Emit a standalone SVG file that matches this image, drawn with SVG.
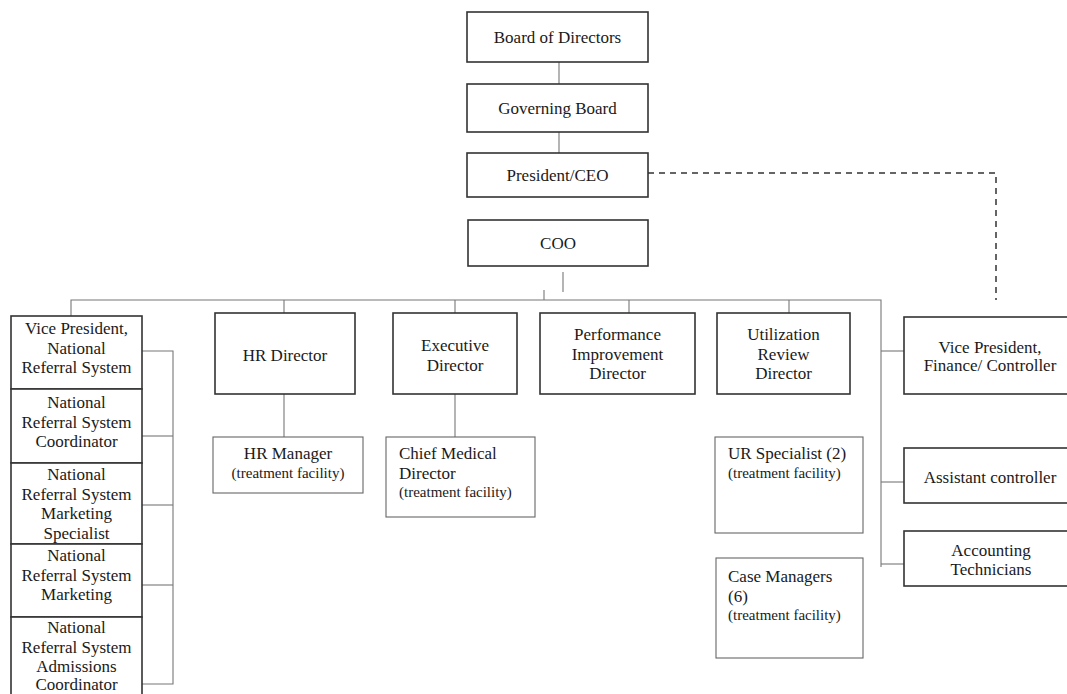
<svg xmlns="http://www.w3.org/2000/svg" width="1067" height="694" viewBox="0 0 1067 694">
<style>
  .box { fill: #fff; stroke: #333; stroke-width: 1.6; }
  .sub { fill: #fff; stroke: #666; stroke-width: 1.1; }
  .t { font-family: "Liberation Serif", "Times New Roman", serif; font-size: 17px; fill: #1a1a1a; text-anchor: middle; }
  .tl { font-family: "Liberation Serif", "Times New Roman", serif; font-size: 17px; fill: #1a1a1a; }
  .s { font-size: 15px; }
  .c { fill: none; stroke: #777; stroke-width: 1.1; }
  .d { fill: none; stroke: #333; stroke-width: 1.5; stroke-dasharray: 6 5; }
</style>
<rect width="1067" height="694" fill="#fff"/>
<g id="connectors">
  <line class="c" x1="559" y1="62" x2="559" y2="84"/>
  <line class="c" x1="559" y1="132" x2="559" y2="153"/>
  <line class="c" x1="563" y1="272" x2="563" y2="292"/>
  <line class="c" x1="544" y1="290" x2="544" y2="300"/>
  <polyline class="c" points="71,316 71,300 881,300 881,567"/>
  <line class="c" x1="284" y1="300" x2="284" y2="313"/>
  <line class="c" x1="455" y1="300" x2="455" y2="313"/>
  <line class="c" x1="629" y1="300" x2="629" y2="313"/>
  <line class="c" x1="789" y1="300" x2="789" y2="313"/>
  <line class="c" x1="881" y1="351" x2="904" y2="351"/>
  <line class="c" x1="881" y1="482" x2="904" y2="482"/>
  <line class="c" x1="881" y1="564" x2="904" y2="564"/>
  <line class="c" x1="284" y1="394" x2="284" y2="437"/>
  <line class="c" x1="455" y1="394" x2="455" y2="437"/>
  <polyline class="c" points="142,351 173,351 173,684 142,684"/>
  <line class="c" x1="142" y1="436" x2="173" y2="436"/>
  <line class="c" x1="142" y1="505" x2="173" y2="505"/>
  <line class="c" x1="142" y1="585" x2="173" y2="585"/>
  <polyline class="d" points="648,173 996,173 996,300"/>
</g>
<g id="board">
  <rect class="box" x="467" y="12" width="181" height="50"/>
  <text class="t" x="557.5" y="43">Board of Directors</text>
</g>
<g id="governing">
  <rect class="box" x="467" y="84" width="181" height="48"/>
  <text class="t" x="557.5" y="114">Governing Board</text>
</g>
<g id="ceo">
  <rect class="box" x="467" y="153" width="181" height="44"/>
  <text class="t" x="557.5" y="181">President/CEO</text>
</g>
<g id="coo">
  <rect class="box" x="468" y="220" width="180" height="46"/>
  <text class="t" x="558" y="249">COO</text>
</g>
<g id="vp-nrs">
  <rect class="box" x="11" y="316" width="131" height="73"/>
  <text class="t" x="76.5" y="334">Vice President,</text>
  <text class="t" x="76.5" y="353.5">National</text>
  <text class="t" x="76.5" y="373">Referral System</text>
</g>
<g id="nrs-coordinator">
  <rect class="box" x="11" y="389" width="131" height="74"/>
  <text class="t" x="76.5" y="408">National</text>
  <text class="t" x="76.5" y="428">Referral System</text>
  <text class="t" x="76.5" y="447">Coordinator</text>
</g>
<g id="nrs-marketing-specialist">
  <rect class="box" x="11" y="463" width="131" height="81"/>
  <text class="t" x="76.5" y="480">National</text>
  <text class="t" x="76.5" y="499.5">Referral System</text>
  <text class="t" x="76.5" y="519">Marketing</text>
  <text class="t" x="76.5" y="538.5">Specialist</text>
</g>
<g id="nrs-marketing">
  <rect class="box" x="11" y="544" width="131" height="73"/>
  <text class="t" x="76.5" y="561">National</text>
  <text class="t" x="76.5" y="581">Referral System</text>
  <text class="t" x="76.5" y="600">Marketing</text>
</g>
<g id="nrs-admissions">
  <rect class="box" x="11" y="617" width="131" height="90"/>
  <text class="t" x="76.5" y="633">National</text>
  <text class="t" x="76.5" y="652.5">Referral System</text>
  <text class="t" x="76.5" y="671.5">Admissions</text>
  <text class="t" x="76.5" y="690">Coordinator</text>
</g>
<g id="hr-director">
  <rect class="box" x="215" y="313" width="140" height="81"/>
  <text class="t" x="285" y="361">HR Director</text>
</g>
<g id="hr-manager">
  <rect class="sub" x="213" y="437" width="150" height="56"/>
  <text class="t" x="288" y="459">HR Manager</text>
  <text class="t s" x="288" y="478">(treatment facility)</text>
</g>
<g id="executive-director">
  <rect class="box" x="393" y="313" width="124" height="81"/>
  <text class="t" x="455" y="351">Executive</text>
  <text class="t" x="455" y="371">Director</text>
</g>
<g id="chief-medical">
  <rect class="sub" x="386" y="437" width="149" height="80"/>
  <text class="tl" x="399" y="459">Chief Medical</text>
  <text class="tl" x="399" y="479">Director</text>
  <text class="tl s" x="399" y="497">(treatment facility)</text>
</g>
<g id="performance">
  <rect class="box" x="540" y="313" width="155" height="81"/>
  <text class="t" x="617.5" y="340">Performance</text>
  <text class="t" x="617.5" y="360">Improvement</text>
  <text class="t" x="617.5" y="379">Director</text>
</g>
<g id="utilization">
  <rect class="box" x="717" y="313" width="133" height="81"/>
  <text class="t" x="783.5" y="340">Utilization</text>
  <text class="t" x="783.5" y="360">Review</text>
  <text class="t" x="783.5" y="379">Director</text>
</g>
<g id="ur-specialist">
  <rect class="sub" x="715" y="437" width="148" height="96"/>
  <text class="tl" x="728" y="459">UR Specialist (2)</text>
  <text class="tl s" x="728" y="478">(treatment facility)</text>
</g>
<g id="case-managers">
  <rect class="sub" x="716" y="558" width="147" height="100"/>
  <text class="tl" x="728" y="582">Case Managers</text>
  <text class="tl" x="728" y="602">(6)</text>
  <text class="tl s" x="728" y="620">(treatment facility)</text>
</g>
<g id="vp-finance">
  <rect class="box" x="904" y="317" width="170" height="77"/>
  <text class="t" x="990" y="353">Vice President,</text>
  <text class="t" x="990" y="371">Finance/ Controller</text>
</g>
<g id="assistant-controller">
  <rect class="box" x="904" y="448" width="170" height="55"/>
  <text class="t" x="990" y="483">Assistant controller</text>
</g>
<g id="accounting-technicians">
  <rect class="box" x="904" y="531" width="170" height="55"/>
  <text class="t" x="991" y="556">Accounting</text>
  <text class="t" x="991" y="575">Technicians</text>
</g>
</svg>
